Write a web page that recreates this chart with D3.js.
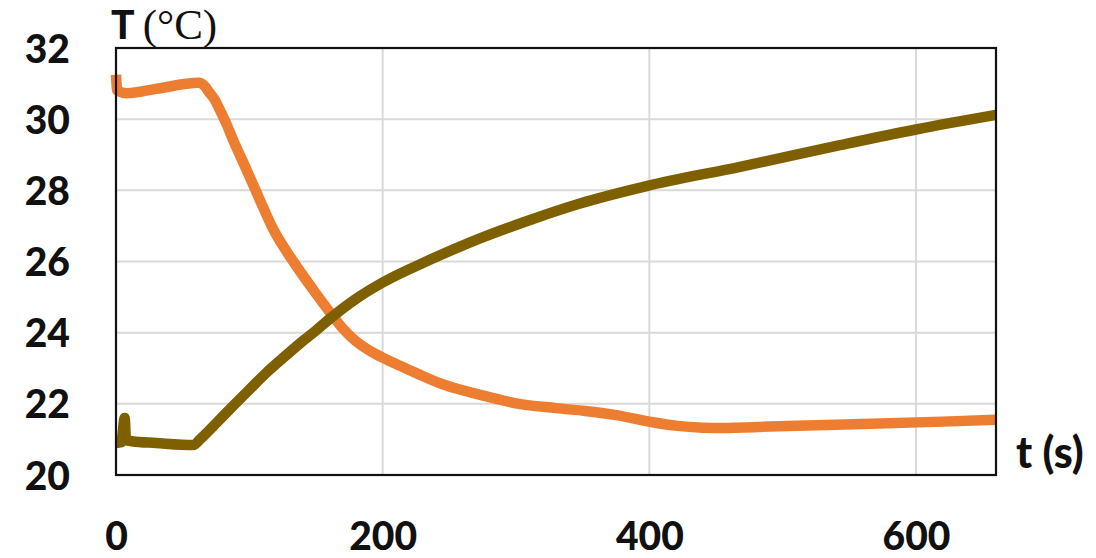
<!DOCTYPE html>
<html><head><meta charset="utf-8">
<script src="https://cdn.jsdelivr.net/npm/d3@7"></script>
<style>html,body{margin:0;padding:0;background:#fff;}</style>
</head><body>
<svg id="c" width="1096" height="558"></svg>
<script>
const xTicks = [0, 200, 400, 600];
const yTicks = [20, 22, 24, 26, 28, 30, 32];
const hotT = [0,1,8,30,62,66,70,74,78,83,88,98,108,118,133,148,163,170,180,190,200,213,226,245,260,282,299,330,352,374,400,421,440,455,490,560,620,660];
const hotV = [31.25,30.8,30.73,30.85,31.02,30.95,30.75,30.55,30.25,29.85,29.4,28.57,27.72,26.9,26.0,25.2,24.45,24.12,23.76,23.5,23.3,23.07,22.85,22.55,22.38,22.17,22.02,21.88,21.8,21.69,21.5,21.38,21.33,21.32,21.36,21.43,21.5,21.55];
const coldT = [0,4,6.5,7.5,12,30,58,63,75,88,100,113,125,138,150,160,180,200,235,273,310,348,398,468,543,600,660];
const coldV = [20.9,20.92,21.6,20.98,20.95,20.9,20.84,21.0,21.45,21.95,22.4,22.88,23.28,23.7,24.06,24.38,24.95,25.41,26.04,26.65,27.16,27.63,28.12,28.66,29.27,29.71,30.12];

const L = 116, R = 996, T = 48, B = 475;
const svg = d3.select('#c');
const x = d3.scaleLinear().domain([0, 660]).range([L, R]);
const y = d3.scaleLinear().domain([20, 32]).range([B, T]);

// gridlines
const g = svg.append('g');
g.selectAll('line.h').data(yTicks.filter(v => v > 20 && v < 32)).enter().append('line')
  .attr('x1', L).attr('x2', R).attr('y1', d => y(d)).attr('y2', d => y(d))
  .attr('stroke', '#d9d9d9').attr('stroke-width', 2);
g.selectAll('line.v').data(xTicks.filter(v => v > 0)).enter().append('line')
  .attr('y1', T).attr('y2', B).attr('x1', d => x(d)).attr('x2', d => x(d))
  .attr('stroke', '#d9d9d9').attr('stroke-width', 2);

// lines
const line = (ts, vs) => d3.line().curve(d3.curveMonotoneX).x((d, i) => x(ts[i])).y((d, i) => y(vs[i]))(vs);
svg.append('path').attr('d', line(hotT, hotV)).attr('fill', 'none')
  .attr('stroke', '#ED7D31').attr('stroke-width', 10.5).attr('stroke-linejoin', 'round').attr('stroke-linecap', 'butt');
svg.append('path').attr('d', line(coldT, coldV)).attr('fill', 'none')
  .attr('stroke', '#7F6000').attr('stroke-width', 10.5).attr('stroke-linejoin', 'round').attr('stroke-linecap', 'butt');

// frame
svg.append('rect').attr('x', L).attr('y', T).attr('width', R - L).attr('height', B - T)
  .attr('fill', 'none').attr('stroke', '#111').attr('stroke-width', 2.2);

// axes labels
const font = 'Lato, "Open Sans", sans-serif';
const yAxis = d3.axisLeft(y).tickValues(yTicks).tickSize(0).tickPadding(0);
const ya = svg.append('g').attr('transform', 'translate(70,0)').call(yAxis);
ya.select('.domain').remove();
ya.selectAll('text').attr('font-family', font).attr('font-weight', 900).attr('font-size', 39)
  .attr('fill', '#111').attr('dy', '0.36em').attr('text-anchor', 'end');

const xAxis = d3.axisBottom(x).tickValues(xTicks).tickSize(0).tickPadding(0);
const xa = svg.append('g').attr('transform', 'translate(0,536)').call(xAxis);
xa.select('.domain').remove();
xa.selectAll('text').attr('font-family', font).attr('font-weight', 900).attr('font-size', 39)
  .attr('fill', '#111').attr('dy', '0.36em');

// axis titles
const tt = svg.append('text').attr('x', 111).attr('y', 39).attr('fill', '#111');
tt.append('tspan').attr('font-family', font).attr('font-weight', 900).attr('font-size', 39).text('T ');
tt.append('tspan').attr('font-family', '"Liberation Serif", serif').attr('font-weight', 400).attr('font-size', 43).text('(°C)');

svg.append('text').attr('x', 1016).attr('y', 468).attr('fill', '#111')
  .attr('font-family', font).attr('font-weight', 900).attr('font-size', 43).text('t (s)');
</script>
</body></html>
